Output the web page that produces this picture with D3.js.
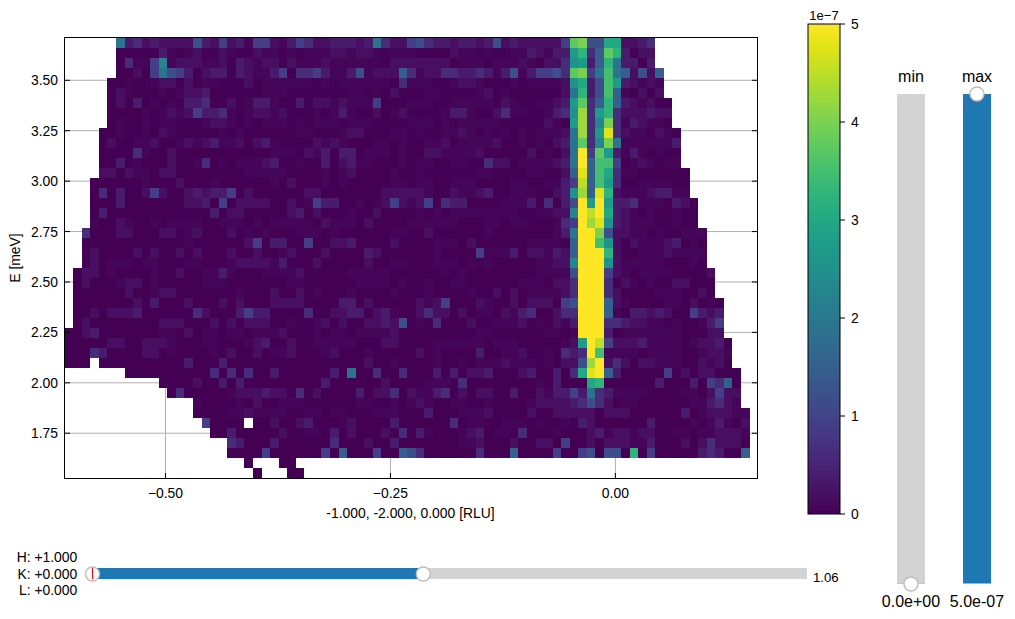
<!DOCTYPE html>
<html><head><meta charset="utf-8">
<script src="https://cdn.jsdelivr.net/npm/d3@7"></script>
<style>
html,body{margin:0;padding:0;background:#fff}
svg{display:block}
text{font-family:"Liberation Sans",Arial,sans-serif;fill:#000}
</style></head><body>
<svg id="c" width="1015" height="619"></svg>
<script>
// Intensity codes per cell (see levelValues; "~" = faintest non-zero; "." = no data).
// Columns 0-39, ten per group, top row (highest E) first.
const cellsLeft = [
"......8342 3222263252 3155213542 2333238422",
"......00~~ ~31~12~~21 ~~21101011 1221221~11",
"......0411 591222112~ 32122~2111 2111111~22",
"......0020 586530233~ 3211350445 3113612227",
".....0010~ 12202~11~0 ~20111111~ 1~11111104",
".....02100 010122300~ ~~0111~~~~ ~0011~1020",
".....02030 1010334002 ~1331003~2 2121115000",
".....00001 0121253341 0122120001 0131002012",
".....01001 ~11~~~1221 010111~101 11~111~0~~",
"....001001 0210000010 1000000110 0012200011",
"....020011 2001212311 2023100002 1210001101",
"....000041 0020000000 0000111021 3033011101",
"....003010 0020014010 1112300100 3023110001",
"....220211 0220000000 0111110000 1012000010",
"...0000001 0002000100 0000102000 1010000011",
"...0403002 5200232335 0200000022 0000000222",
"...0003000 0000223050 2222002015 3300101252",
"...0300000 0000000302 2000002302 0001002000",
"...1002100 1011110011 1010111110 2111020000",
"..40002200 0220120002 0101000111 0100000011",
"..00000000 0000100000 0250330050 0223000020",
"..02000020 2002020002 0020012000 2000032000",
"..02011101 1000110001 2222130002 0000020011",
".022010000 1002001131 0001111200 0001111100",
".020001220 1000001110 0000001100 0000111101",
".000000200 1220000000 1000200201 0001000010",
".000000020 3000200020 2000222200 0033020000",
".002022230 0000042000 3533000040 0223302310",
".020000000 0222000202 0222001001 2020022326",
"0023000000 0110201101 1011120001 0110111120",
"0000022002 2210001100 0123002001 1111000220",
"0004300002 2010000102 0020112000 1200010000",
"000.000000 0000300030 0000000000 0000020010",
".......000 0000000404 0400300000 0308004004",
".......... .000020030 3000000000 3000000200",
".......... ..04000001 2223220402 0000302240",
".......... .....10000 1020011100 0000110010",
".......... .....00001 1211110011 0110001110",
".......... ......5000 0.00200230 0012000030",
".......... .......003 0000020011 0302000204",
".......... .........4 3000300000 0400020030",
".......... .........0 0005000000 5070005007",
".......... .......... .0...00... ..........",
".......... .......... ..0...00.. .........."
];
// Columns 40-79.
const cellsRight = [
"5643323323 623222225f g66cc2234. ..........",
"1~~~0211~1 ~~1132133b d47fd3~22. ..........",
"2222201110 111210224a b37d83303. ..........",
"4122443343 136135564f g58e872627 ..........",
"111~~12210 001~11112a c36eb32121 ..........",
"0011~~~~12 0100000~28 d36e710202 ..........",
"111~011111 021~~1123b f47d732120 0.........",
"~0~~133100 24110~134a h4bd422232 2.........",
"11101~1111 1~0~~~210b h49g413211 0.........",
"~1~0112101 0101011128 h4bj421102 10........",
"0011201111 2001010238 f49g811111 13........",
"0022111120 0000201028 k5fb313101 00........",
"0110011004 2201111238 k7ee501210 11........",
"01~~~~~~11 0000110027 j7ec411000 000.......",
"0110011100 0011001135 i7eb400111 100.......",
"2210021123 001110023a h7jd211123 311.......",
"1250433000 0111304036 kbkb334111 0320......",
"0101011111 1110011229 kikc321010 0100......",
"1111110001 1011000145 khja321110 0100......",
"0020000001 0000000138 kkg6221101 00111.....",
"0001110200 0000111107 kkea202111 23010.....",
"0001000051 1130221327 kkkd200111 21111.....",
"0001110101 0000011229 kkka211111 00010.....",
"0000101000 0000011116 kkk5210111 100002....",
"0010011000 0001110224 kkk4021010 022000....",
"0010000100 2020111124 kkk4200001 110020....",
"0212500021 0020222056 kkk7210000 1102010...",
"0242202011 0213400244 kkk7103323 2005323...",
"0104000200 1112010213 kkk4432211 0100135...",
"0000000011 0000001101 kkk3011111 1100022...",
"0001111110 1110000012 bki5222311 11012230..",
"0201000030 0112001043 4ke1111011 11001221..",
"0001001011 1211101022 6hk2420221 11002120..",
"0003030223 0002300304 cjk7300000 502022000.",
"0011104000 0000010300 0cd0000003 000305470.",
"2113402022 0030021335 3843111100 001102522.",
"1210011001 0000122223 4642011000 000113421.",
"0030001112 0000200222 2202220000 0030122211",
"0000040110 0111010010 3200000030 0001013102",
"0310001230 1104000100 0231221220 0110112221",
"0000001120 0020022050 0202221130 0020242220",
"6400000040 0070000500 560660d050 0000343007",
".......... .......... .......... ..........",
".......... .......... .......... .........."
];
// Value (in 1e-7) that each code stands for, read against the colour bar.
const levelValues = {
  "0": 0, "~": 0.03, "1": 0.07, "2": 0.18, "3": 0.36, "4": 0.62, "5": 0.9, "6": 1.2, "7": 1.5, "8": 1.9, "9": 2.25,
  "a": 2.5, "b": 2.75, "c": 3, "d": 3.25, "e": 3.5, "f": 3.75, "g": 4, "h": 4.25, "i": 4.5, "j": 4.75, "k": 5
};
const colorMax = 5;
const xTicks = [-0.5, -0.25, 0];
const yTicks = [1.75, 2, 2.25, 2.5, 2.75, 3, 3.25, 3.5];
const cbarTicks = [0, 1, 2, 3, 4, 5];
const hklLines = ["H: +1.000", "K: +0.000", "L: +0.000"];
const qStart = -0.6121, qStep = 0.009515;
const eStart = 3.7097, eStep = 0.04958;
const xDomain = [-0.6117, 0.1574], yDomain = [1.528, 3.7097];
const FS = 13.9;

const svg = d3.select("#c");
const L = 65, R = 757, T = 38, B = 478;
const x = d3.scaleLinear().domain(xDomain).range([L, R]);
const y = d3.scaleLinear().domain(yDomain).range([B, T]);
const color = d3.scaleSequential(d3.interpolateViridis).domain([0, colorMax]);
const fmtMinus = s => s.replace("-", "\u2212");

// grid beneath the mesh
const g = svg.append("g");
g.selectAll(".gx").data(xTicks).join("line").attr("x1", d => x(d)).attr("x2", d => x(d))
  .attr("y1", T).attr("y2", B).attr("stroke", "#b0b0b0").attr("stroke-width", 1);
g.selectAll(".gy").data(yTicks).join("line").attr("y1", d => y(d)).attr("y2", d => y(d))
  .attr("x1", L).attr("x2", R).attr("stroke", "#b0b0b0").attr("stroke-width", 1);

// mesh
const parseGroups = s => s.split(" ").map(p => p.padEnd(10, ".").slice(0, 10)).join("");
const cells = [];
cellsLeft.forEach((row, r) => {
  const str = parseGroups(row) + parseGroups(cellsRight[r]);
  [...str].forEach((ch, c) => {
    if (ch === ".") return;
    cells.push({ r, c, v: levelValues[ch] });
  });
});
svg.append("g").attr("shape-rendering", "crispEdges").selectAll("rect").data(cells).join("rect")
  .attr("x", d => Math.round(x(qStart + d.c * qStep)))
  .attr("y", d => Math.round(y(eStart - d.r * eStep)))
  .attr("width", d => Math.round(x(qStart + (d.c + 1) * qStep)) - Math.round(x(qStart + d.c * qStep)))
  .attr("height", d => Math.round(y(eStart - (d.r + 1) * eStep)) - Math.round(y(eStart - d.r * eStep)))
  .attr("fill", d => color(d.v));

// ticks & frame
const tk = svg.append("g").attr("stroke", "#000").attr("stroke-width", 1);
xTicks.forEach(t => tk.append("line").attr("x1", x(t)).attr("x2", x(t)).attr("y1", B).attr("y2", B - 5));
yTicks.forEach(t => {
  tk.append("line").attr("x1", L).attr("x2", L + 5).attr("y1", y(t)).attr("y2", y(t));
  tk.append("line").attr("x1", R).attr("x2", R - 5).attr("y1", y(t)).attr("y2", y(t));
});
svg.append("rect").attr("x", L - 0.5).attr("y", T - 0.5).attr("width", R - L + 1).attr("height", B - T + 1)
  .attr("fill", "none").attr("stroke", "#000").attr("stroke-width", 1);

const lab = (xx, yy, s, a, fs) => svg.append("text").attr("x", xx).attr("y", yy)
  .attr("text-anchor", a || "middle").attr("font-size", fs || FS).text(s);
xTicks.forEach(t => lab(x(t), 498, fmtMinus(d3.format(".2f")(t))));
yTicks.forEach(t => lab(58, y(t) + 5, d3.format(".2f")(t), "end"));
lab(410.5, 518, "-1.000, -2.000, 0.000 [RLU]");
svg.append("text").attr("transform", "translate(20,258) rotate(-90)").attr("text-anchor", "middle")
  .attr("font-size", FS).text("E [meV]");

// colorbar
const cbY = d3.scaleLinear().domain([0, 5]).range([514, 24]);
const defs = svg.append("defs");
const grad = defs.append("linearGradient").attr("id", "vir").attr("x1", 0).attr("x2", 0).attr("y1", 1).attr("y2", 0);
d3.range(0, 1.001, 0.05).forEach(t => grad.append("stop").attr("offset", t).attr("stop-color", d3.interpolateViridis(t)));
svg.append("rect").attr("x", 808).attr("y", cbY(5)).attr("width", 32).attr("height", cbY(0) - cbY(5))
  .attr("fill", "url(#vir)").attr("stroke", "#000").attr("stroke-width", 1);
cbarTicks.forEach(t => {
  svg.append("line").attr("x1", 840).attr("x2", 845).attr("y1", cbY(t)).attr("y2", cbY(t)).attr("stroke", "#000");
  lab(851, cbY(t) + 5, String(t), "start");
});
lab(824, 20, "1e\u22127", "middle", 13);

// sliders
const handle = (cx, cy) => svg.append("circle").attr("cx", cx).attr("cy", cy).attr("r", 7)
  .attr("fill", "#fff").attr("stroke", "#bdbdbd").attr("stroke-width", 1.4);
const LIGHT = "#d3d3d3", BLUE = "#1f77b4";
// horizontal
svg.append("rect").attr("x", 92.5).attr("y", 568).attr("width", 714.5).attr("height", 11).attr("fill", LIGHT);
svg.append("rect").attr("x", 92.5).attr("y", 568).attr("width", 330.8).attr("height", 11).attr("fill", BLUE);
handle(92.5, 574);
svg.append("line").attr("x1", 92.5).attr("x2", 92.5).attr("y1", 568).attr("y2", 579).attr("stroke", "#e00").attr("stroke-width", 1);
handle(423.3, 574);
lab(813, 582, "1.06", "start", 13.2);
hklLines.forEach((s, i) => lab(77.3, 562 + i * 16.5, s, "end"));
// vertical min
svg.append("rect").attr("x", 897).attr("y", 94).attr("width", 28).attr("height", 489.5).attr("fill", LIGHT);
svg.append("line").attr("x1", 897).attr("x2", 925).attr("y1", 583.5).attr("y2", 583.5).attr("stroke", "#e8b8b8").attr("stroke-width", 1);
handle(911, 584);
lab(911, 82, "min", "middle", 16);
lab(911, 607, "0.0e+00", "middle", 16);
// vertical max
svg.append("rect").attr("x", 963).attr("y", 94).attr("width", 28).attr("height", 489.5).attr("fill", BLUE);
handle(977, 94);
lab(977, 82, "max", "middle", 16);
lab(977, 607, "5.0e-07", "middle", 16);
</script>
</body></html>
